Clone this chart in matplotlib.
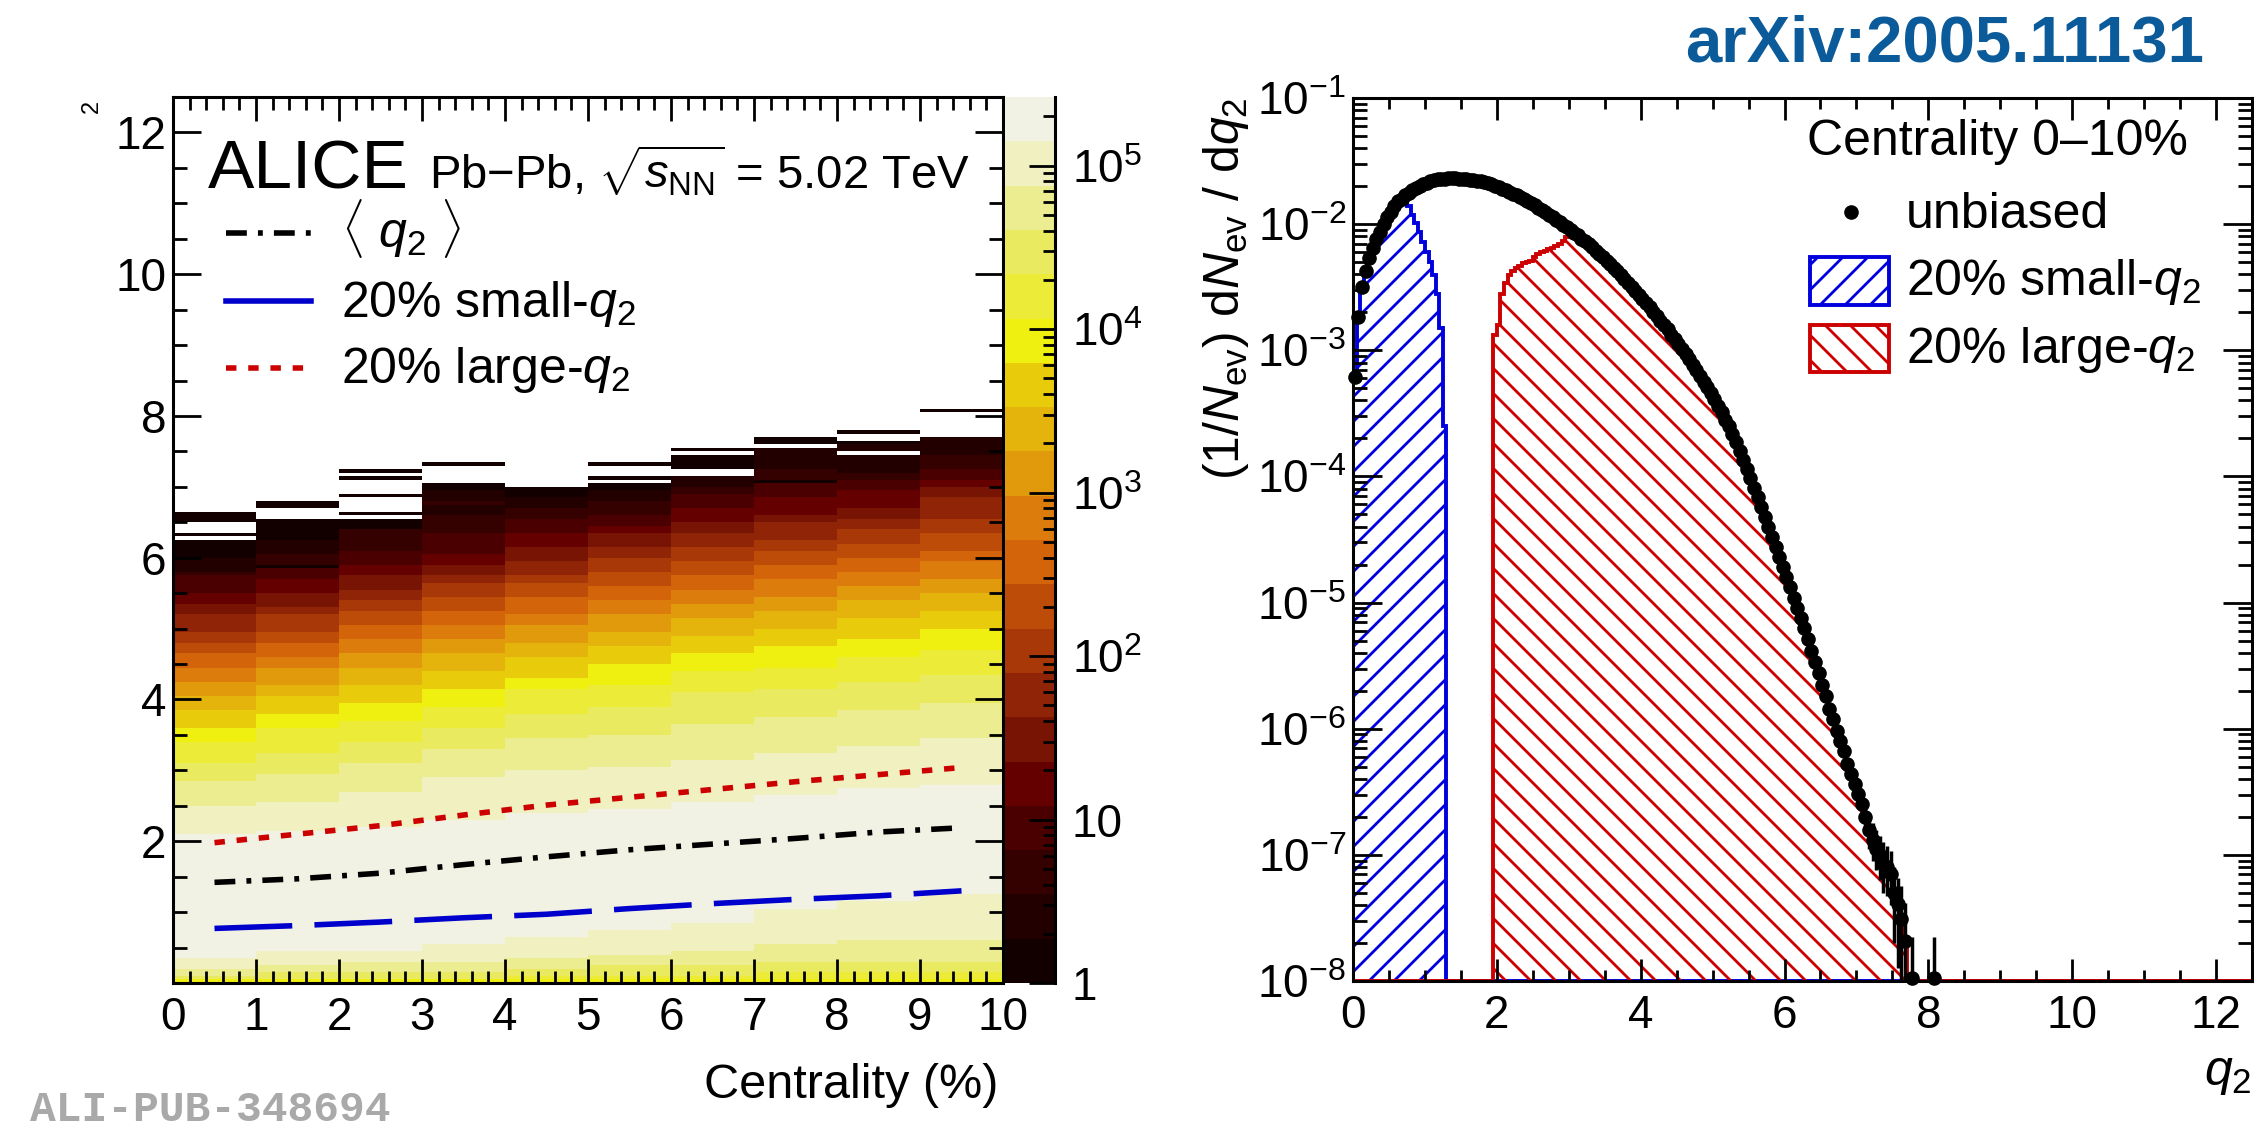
import numpy as np
import matplotlib
matplotlib.use("Agg")
import matplotlib.pyplot as plt
from matplotlib.colors import ListedColormap, LogNorm
from matplotlib.patches import Rectangle
from matplotlib.path import Path
from matplotlib.backend_bases import GraphicsContextBase
from matplotlib.ticker import MultipleLocator, LogLocator, FuncFormatter, NullFormatter, FixedLocator

plt.rcParams['font.family'] = ['Liberation Sans', 'DejaVu Sans']
plt.rcParams['mathtext.fontset'] = 'custom'
plt.rcParams['mathtext.rm'] = 'Liberation Sans'
plt.rcParams['mathtext.it'] = 'Liberation Sans:italic'
plt.rcParams['mathtext.bf'] = 'Liberation Sans:bold'
plt.rcParams['lines.scale_dashes'] = False
plt.rcParams['hatch.linewidth'] = 2.0


# ROOT-like hatch spacing (8 lines per inch instead of 6)
def _hatch_path(self, density=8.0):
    h = self.get_hatch()
    return None if h is None else Path.hatch(h, density)


GraphicsContextBase.get_hatch_path = _hatch_path

# ---------------- left panel data ----------------
cent_edges = [0, 1, 2, 3, 4, 5, 6, 7, 8, 9, 10]
cent_centers = [0.5, 1.5, 2.5, 3.5, 4.5, 5.5, 6.5, 7.5, 8.5, 9.5]
q2_mean = [1.42, 1.47, 1.55, 1.67, 1.78, 1.88, 1.96, 2.04, 2.13, 2.19]
q2_small = [0.77, 0.81, 0.86, 0.92, 0.97, 1.05, 1.12, 1.18, 1.23, 1.30]
q2_large = [1.98, 2.10, 2.22, 2.37, 2.51, 2.62, 2.73, 2.84, 2.94, 3.04]

# palette levels (darkest -> lightest), 20 bands from 1 to ~2.6e5
palette = ['#120000', '#220000', '#340000', '#4a0000', '#640000', '#781404',
           '#902406', '#a83808', '#bc4c08', '#d4640a', '#dc7c0c', '#e09a0c',
           '#e4b40c', '#e8cc0c', '#f0f010', '#ecec38', '#eaea60', '#ecec90',
           '#f0f0c0', '#f2f2e4']
z_max = 10 ** 5.42

# per centrality bin: q2 run edges and palette level of each run (-1 = empty)
c0_edges = [0, 0.05, 0.10, 0.20, 0.35, 2.10, 2.50, 2.85, 3.10, 3.40, 3.60, 3.85, 4.05, 4.25, 4.45,
            4.65, 4.80, 4.95, 5.20, 5.35, 5.50, 5.75, 5.80, 6.00, 6.25, 6.30, 6.35, 6.50, 6.65]
c0_lv = [14, 16, 17, 18, 19, 18, 17, 16, 15, 14, 13, 12, 11, 10, 9, 8, 7, 6, 5, 4, 3, 2, 1, 0, -1, 0, -1, 0]
c1_edges = [0, 0.05, 0.15, 0.25, 0.45, 2.15, 2.55, 2.95, 3.25, 3.60, 3.80, 4.05, 4.20, 4.45, 4.60,
            4.80, 4.95, 5.20, 5.30, 5.50, 5.70, 5.85, 5.90, 6.05, 6.25, 6.55, 6.70, 6.80]
c1_lv = [14, 16, 17, 18, 19, 18, 17, 16, 15, 14, 13, 12, 11, 10, 9, 8, 7, 6, 5, 4, 3, 0, 2, 1, 0, -1, 0]
c2_edges = [0, 0.05, 0.15, 0.30, 0.45, 2.20, 2.70, 3.10, 3.40, 3.70, 3.95, 4.20, 4.45, 4.65, 4.85,
            5.05, 5.25, 5.40, 5.55, 5.75, 5.90, 6.10, 6.40, 6.55, 6.60, 6.65, 6.85, 6.90, 7.10, 7.15,
            7.20, 7.25]
c2_lv = [14, 16, 17, 18, 19, 18, 17, 16, 15, 14, 13, 12, 11, 10, 9, 8, 7, 6, 5, 4, 3, 2, 0, -1, 0,
         -1, 0, -1, 0, -1, 0]
c3_edges = [0, 0.05, 0.15, 0.30, 0.55, 2.30, 2.90, 3.30, 3.60, 3.90, 4.15, 4.40, 4.65, 4.85, 5.05,
            5.25, 5.45, 5.65, 5.75, 5.90, 6.05, 6.35, 6.60, 6.75, 6.80, 6.95, 7.05, 7.30, 7.35]
c3_lv = [14, 16, 17, 18, 19, 18, 17, 16, 15, 14, 13, 12, 11, 10, 9, 8, 7, 6, 5, 4, 3, 2, 1, 2, 1, 0, -1, 0]
c4_edges = [0, 0.05, 0.10, 0.20, 0.35, 0.65, 2.40, 3.00, 3.45, 3.80, 4.15, 4.30, 4.60, 4.80, 5.05,
            5.20, 5.45, 5.65, 5.75, 5.95, 6.15, 6.35, 6.55, 6.70, 6.85, 7.00]
c4_lv = [14, 15, 16, 17, 18, 19, 18, 17, 16, 15, 14, 13, 12, 11, 10, 9, 8, 7, 6, 5, 4, 3, 2, 1, 0]
c5_edges = [0, 0.05, 0.10, 0.25, 0.40, 0.75, 2.45, 3.05, 3.50, 3.90, 4.20, 4.50, 4.75, 4.95, 5.20,
            5.40, 5.60, 5.80, 6.00, 6.15, 6.35, 6.45, 6.60, 6.80, 6.95, 7.05, 7.10, 7.15, 7.30, 7.35]
c5_lv = [14, 15, 16, 17, 18, 19, 18, 17, 16, 15, 14, 13, 12, 11, 10, 9, 8, 7, 6, 5, 4, 3, 2, 1, 0,
         -1, 0, -1, 0]
c6_edges = [0, 0.05, 0.10, 0.25, 0.45, 0.85, 2.55, 3.15, 3.65, 4.10, 4.40, 4.65, 4.90, 5.15, 5.35,
            5.55, 5.75, 5.95, 6.15, 6.35, 6.50, 6.70, 6.90, 7.00, 7.15, 7.25, 7.45, 7.50, 7.55]
c6_lv = [14, 15, 16, 17, 18, 19, 18, 17, 16, 15, 14, 13, 12, 11, 10, 9, 8, 7, 6, 5, 4, 3, 2, 1, -1,
         0, -1, 0]
c7_edges = [0, 0.05, 0.15, 0.30, 0.55, 1.05, 2.65, 3.25, 3.75, 4.15, 4.45, 4.75, 5.00, 5.25, 5.45,
            5.70, 5.90, 6.10, 6.25, 6.50, 6.60, 6.85, 7.05, 7.10, 7.25, 7.55, 7.60, 7.70]
c7_lv = [14, 15, 16, 17, 18, 19, 18, 17, 16, 15, 14, 13, 12, 11, 10, 9, 8, 7, 6, 5, 4, 3, 0, 2, 1, -1, 0]
c8_edges = [0, 0.05, 0.15, 0.30, 0.60, 1.15, 2.75, 3.35, 3.85, 4.25, 4.60, 4.85, 5.15, 5.40, 5.60,
            5.80, 6.00, 6.20, 6.40, 6.55, 6.70, 6.95, 7.10, 7.20, 7.45, 7.50, 7.60, 7.65, 7.75, 7.80]
c8_lv = [14, 15, 16, 17, 18, 19, 18, 17, 16, 15, 14, 13, 12, 11, 10, 9, 8, 7, 6, 5, 4, 3, 2, 1, -1,
         1, 0, -1, 0]
c9_edges = [0, 0.05, 0.15, 0.30, 0.60, 1.25, 2.80, 3.45, 3.95, 4.35, 4.70, 5.00, 5.25, 5.50, 5.70,
            5.95, 6.10, 6.35, 6.55, 6.85, 7.00, 7.10, 7.25, 7.45, 7.70, 8.05, 8.10]
c9_lv = [14, 15, 16, 17, 18, 19, 18, 17, 16, 15, 14, 13, 12, 11, 10, 9, 8, 7, 6, 5, 4, 3, 2, 1, -1, 0]

# ---------------- right panel data ----------------
q2_bin = 0.05
n_q2_bins = 250
# log10 of (1/N) dN/dq2, unbiased, bins of 0.05 starting at 0 (None = empty)
unbiased_log = [
    -3.21, -2.74, -2.50, -2.37, -2.27, -2.19, -2.12, -2.06, -2.00, -1.94,
    -1.90, -1.86, -1.82, -1.80, -1.77, -1.75, -1.73, -1.71, -1.695, -1.68,
    -1.67, -1.66, -1.65, -1.645, -1.64, -1.64, -1.635, -1.635, -1.635, -1.64,
    -1.64, -1.645, -1.65, -1.65, -1.655, -1.66, -1.665, -1.675, -1.685, -1.695,
    -1.705, -1.72, -1.73, -1.745, -1.76, -1.77, -1.785, -1.80, -1.815, -1.835,
    -1.85, -1.87, -1.89, -1.905, -1.925, -1.945, -1.965, -1.985, -2.005, -2.025,
    -2.05, -2.07, -2.09, -2.115, -2.135, -2.16, -2.185, -2.21, -2.235, -2.26,
    -2.29, -2.315, -2.345, -2.375, -2.405, -2.435, -2.465, -2.495, -2.53, -2.56,
    -2.595, -2.625, -2.66, -2.695, -2.73, -2.765, -2.80, -2.835, -2.875, -2.91,
    -2.95, -2.99, -3.03, -3.07, -3.115, -3.16, -3.205, -3.25, -3.295, -3.34,
    -3.39, -3.44, -3.49, -3.55, -3.60, -3.66, -3.73, -3.80, -3.87, -3.94,
    -4.01, -4.09, -4.16, -4.24, -4.32, -4.40, -4.48, -4.56, -4.64, -4.72,
    -4.80, -4.88, -4.96, -5.04, -5.12, -5.20, -5.29, -5.38, -5.47, -5.56,
    -5.65, -5.74, -5.84, -5.92, -6.02, -6.10, -6.18, -6.28, -6.36, -6.44,
    -6.52, -6.60, -6.70, -6.80, -6.88, -6.95, -7.00, -7.07, -7.10, -7.15,
    -7.30, -7.39, -7.51, -7.68, None, -7.98, None, None, None, None,
    None, -7.98]
# small-q2 class: equal to unbiased below 0.70, then these bins (0.70 ... 1.30)
small_start = 0.70
small_log = [-1.83, -1.86, -1.93, -1.99, -2.06, -2.14, -2.22, -2.30, -2.40, -2.55, -2.82, -3.60]
# large-q2 class: these bins from 1.95 to 3.05, equal to unbiased above
large_start = 1.95
large_log = [-2.88, -2.80, -2.55, -2.47, -2.40, -2.37, -2.35, -2.33, -2.31, -2.30, -2.29,
             -2.26, -2.24, -2.22, -2.21, -2.20, -2.19, -2.17, -2.16, -2.13, -2.10, -2.07]
# statistical error bars of the sparse tail
tail_q2 = [7.125, 7.175, 7.225, 7.275, 7.325, 7.375, 7.425, 7.475, 7.525, 7.575, 7.625, 7.675, 7.775, 8.075]
tail_lo_log = [-6.82, -6.95, -7.05, -7.12, -7.20, -7.30, -7.33, -7.40, -7.70, -7.90, -8.2, -9, -9, -9]
tail_hi_log = [-6.60, -6.68, -6.75, -6.80, -6.85, -6.90, -6.93, -6.97, -7.10, -7.18, -7.25, -7.38, -7.65, -7.65]
y_floor = 1e-8

W, H = 2254, 1131
fig = plt.figure(figsize=(W / 100, H / 100), dpi=100)

# ================= left panel =================
ax1 = fig.add_axes([173 / W, 1 - 983 / H, 830 / W, 886 / H])
cax = fig.add_axes([1005 / W, 1 - 983 / H, 50 / W, 886 / H])

q2_edges = np.arange(n_q2_bins + 1) * q2_bin
q2_cent = q2_edges[:-1] + q2_bin / 2
level_value = 10 ** ((np.arange(20) + 0.5) * np.log10(z_max) / 20)

cols = [(c0_edges, c0_lv), (c1_edges, c1_lv), (c2_edges, c2_lv), (c3_edges, c3_lv),
        (c4_edges, c4_lv), (c5_edges, c5_lv), (c6_edges, c6_lv), (c7_edges, c7_lv),
        (c8_edges, c8_lv), (c9_edges, c9_lv)]
Z = np.full((n_q2_bins, len(cols)), np.nan)
for ic, (ed, lv) in enumerate(cols):
    for lo, hi, l in zip(ed[:-1], ed[1:], lv):
        rows = (q2_cent > lo) & (q2_cent < hi)
        if l >= 0:
            Z[rows, ic] = level_value[l]

cmap = ListedColormap(palette)
norm = LogNorm(vmin=1, vmax=z_max)
mesh = ax1.pcolormesh(cent_edges, q2_edges, np.ma.masked_invalid(Z), cmap=cmap, norm=norm)

lw_line = 4.0
ax1.plot(cent_centers, q2_mean, color='black', lw=lw_line, dashes=(15, 8, 3.5, 8))
ax1.plot(cent_centers, q2_small, color='#0000cc', lw=lw_line, dashes=(56, 16))
ax1.plot(cent_centers, q2_large, color='#cc0000', lw=lw_line, dashes=(7.5, 8.5))

ax1.set_xlim(0, 10)
ax1.set_ylim(0, 12.5)
ax1.xaxis.set_major_locator(MultipleLocator(1))
ax1.xaxis.set_minor_locator(MultipleLocator(0.2))
ax1.yaxis.set_major_locator(FixedLocator([2, 4, 6, 8, 10, 12]))
ax1.yaxis.set_minor_locator(MultipleLocator(0.5))
ax1.tick_params(which='both', direction='in', top=True, right=True, width=2, labelsize=33)
ax1.tick_params(axis='x', which='major', length=17, pad=9)
ax1.tick_params(axis='x', which='minor', length=9)
ax1.tick_params(axis='y', which='major', length=20, pad=5)
ax1.tick_params(axis='y', which='minor', length=10)
for s in ax1.spines.values():
    s.set_linewidth(2.2)

# colour bar
cb = fig.colorbar(mesh, cax=cax)
cb.outline.set_visible(False)
cax.yaxis.set_major_locator(LogLocator(base=10))
cax.yaxis.set_minor_locator(LogLocator(base=10, subs=np.arange(2, 10)))


def cb_label(v, pos):
    e = int(round(np.log10(v)))
    if e == 0:
        return '1'
    if e == 1:
        return '10'
    return r'$10^{%d}$' % e


cax.yaxis.set_major_formatter(FuncFormatter(cb_label))
cax.yaxis.set_minor_formatter(NullFormatter())
cax.tick_params(which='both', direction='in', right=True, left=False, labelright=True,
                labelleft=False, width=2, labelsize=33, pad=12)
cax.tick_params(which='major', length=19)
cax.tick_params(which='minor', length=9)
cax.plot([1, 1], [0, 1], transform=cax.transAxes, color='black', lw=2.2, clip_on=False)

# texts and legend of the left panel
ax1.text(0.042, 0.897, 'ALICE', transform=ax1.transAxes, fontsize=50, va='baseline')
ax1.text(0.308, 0.897, r'Pb$-$Pb, $\sqrt{s_{\rm NN}}$ = 5.02 TeV', transform=ax1.transAxes,
         fontsize=34, va='baseline')
ax1.plot([0.064, 0.166], [0.846, 0.846], transform=ax1.transAxes, color='black', lw=lw_line,
         dashes=(15, 8, 3.5, 8))
ax1.plot([0.064, 0.166], [0.770, 0.770], transform=ax1.transAxes, color='#0000cc', lw=lw_line)
ax1.plot([0.064, 0.166], [0.694, 0.694], transform=ax1.transAxes, color='#cc0000', lw=lw_line,
         dashes=(7.5, 8.5))
ax1.text(0.202, 0.831, r'$\langle\ q_{2}\ \rangle$', transform=ax1.transAxes, fontsize=36, va='baseline')
ax1.text(0.202, 0.752, r'20% small-$q_{2}$', transform=ax1.transAxes, fontsize=36, va='baseline')
ax1.text(0.202, 0.677, r'20% large-$q_{2}$', transform=ax1.transAxes, fontsize=36, va='baseline')

fig.text(998 / W, 1 - 1098 / H, 'Centrality (%)', fontsize=35, ha='right', va='baseline')
fig.text(92 / W, 1 - 106 / H, '2', fontsize=17, rotation=90, ha='center', va='center')

# ================= right panel =================
ax2 = fig.add_axes([1353 / W, 1 - 981 / H, 899 / W, 883 / H])
ax2.set_yscale('log')

unb = np.array([np.nan if v is None else 10 ** v for v in unbiased_log])
n_unb = len(unb)
unb_cent = q2_cent[:n_unb]

small_vals = np.full(n_q2_bins, y_floor)
i0 = int(round(small_start / q2_bin))
small_vals[:i0] = unb[:i0]
small_vals[i0:i0 + len(small_log)] = 10 ** np.array(small_log)

large_vals = np.full(n_q2_bins, y_floor)
j0 = int(round(large_start / q2_bin))
j1 = j0 + len(large_log)
large_vals[j0:j1] = 10 ** np.array(large_log)
large_vals[j1:n_unb] = np.nan_to_num(unb[j1:], nan=y_floor)

ax2.stairs(small_vals, q2_edges, baseline=y_floor, fill=True, facecolor='none',
           edgecolor='#0000dd', hatch='/', lw=2.8)
ax2.stairs(large_vals, q2_edges, baseline=y_floor, fill=True, facecolor='none',
           edgecolor='#cc0000', hatch='\\', lw=2.8)

ax2.vlines(tail_q2, 10 ** np.array(tail_lo_log, dtype=float), 10 ** np.array(tail_hi_log, dtype=float),
           color='black', lw=2.5)
ax2.plot(unb_cent, unb, 'o', color='black', ms=9.5, clip_on=False, zorder=5)

ax2.set_xlim(0, 12.5)
ax2.set_ylim(1e-8, 1e-1)
ax2.xaxis.set_major_locator(MultipleLocator(2))
ax2.xaxis.set_minor_locator(MultipleLocator(0.5))
ax2.yaxis.set_major_locator(LogLocator(base=10, numticks=20))
ax2.yaxis.set_minor_locator(LogLocator(base=10, subs=np.arange(2, 10), numticks=20))
ax2.yaxis.set_minor_formatter(NullFormatter())
ax2.tick_params(which='both', direction='in', top=True, right=True, width=2, labelsize=33)
ax2.tick_params(axis='x', which='major', length=16, pad=9)
ax2.tick_params(axis='x', which='minor', length=8)
ax2.tick_params(axis='y', which='major', length=21, pad=5)
ax2.tick_params(axis='y', which='minor', length=10)
for s in ax2.spines.values():
    s.set_linewidth(2.2)

# legend of the right panel
ax2.text(0.505, 0.935, 'Centrality 0\u201310%', transform=ax2.transAxes, fontsize=36, va='baseline')
ax2.plot([0.554], [0.871], 'o', color='black', ms=9.5, transform=ax2.transAxes, clip_on=False)
ax2.text(0.615, 0.853, 'unbiased', transform=ax2.transAxes, fontsize=36, va='baseline')
ax2.add_patch(Rectangle((0.508, 0.766), 0.088, 0.054, transform=ax2.transAxes, facecolor='none',
                        edgecolor='#0000dd', hatch='/', lw=2.8))
ax2.text(0.615, 0.777, r'20% small-$q_{2}$', transform=ax2.transAxes, fontsize=36, va='baseline')
ax2.add_patch(Rectangle((0.508, 0.690), 0.088, 0.053, transform=ax2.transAxes, facecolor='none',
                        edgecolor='#cc0000', hatch='\\', lw=2.8))
ax2.text(0.615, 0.700, r'20% large-$q_{2}$', transform=ax2.transAxes, fontsize=36, va='baseline')

fig.text(1226 / W, 1 - 97 / H, r'$(1/N_{\rm ev})\ {\rm d}N_{\rm ev}\ /\ {\rm d}q_{2}$', fontsize=36,
         rotation=90, ha='center', va='top')
fig.text(2252 / W, 1 - 1085 / H, r'$q_{2}$', fontsize=36, ha='right', va='baseline')

# watermark and reference
fig.text(30 / W, 1 - 1121 / H, 'ALI-PUB-348694', fontsize=31, family='Liberation Mono',
         weight='bold', color='#a9a9a9', va='baseline')
fig.text(2204 / W, 1 - 62 / H, 'arXiv:2005.11131', fontsize=47, weight='bold', color='#0b5b9b',
         ha='right', va='baseline')

fig.savefig('out.png', dpi=100)
